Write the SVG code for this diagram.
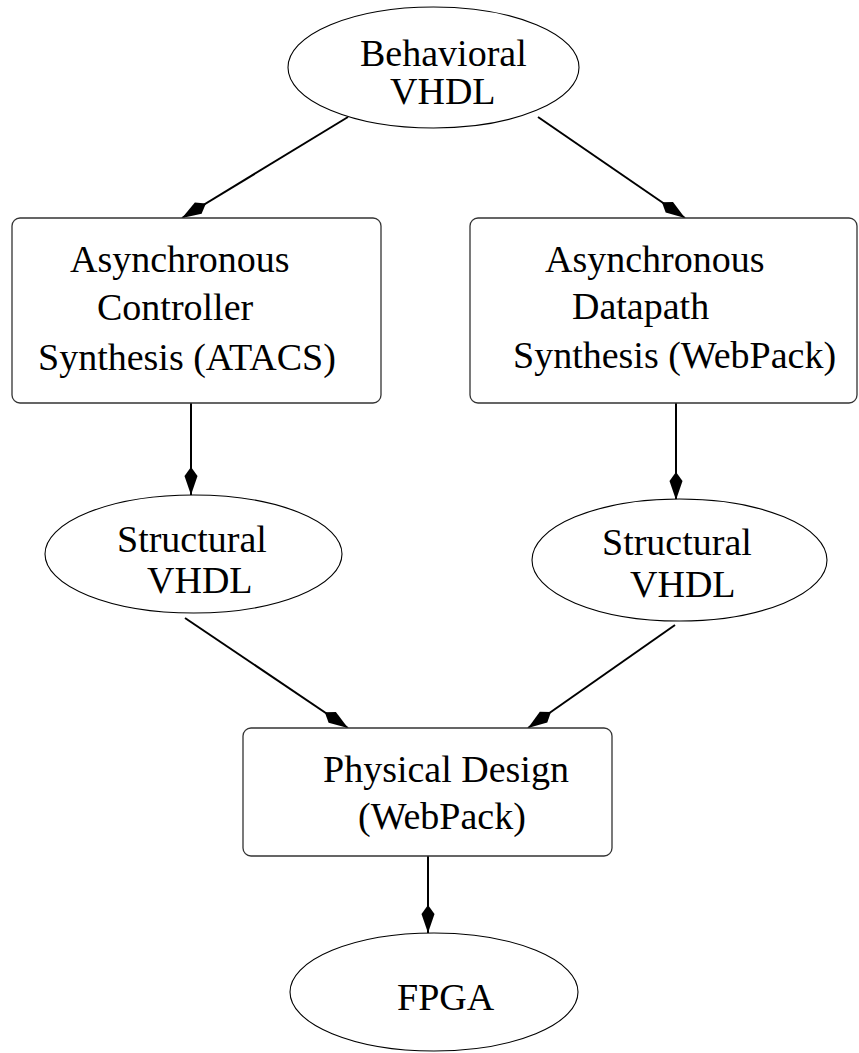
<svg xmlns="http://www.w3.org/2000/svg" width="859" height="1053" viewBox="0 0 859 1053">
<style>
text { font-family: "Liberation Serif", "Times New Roman", serif; font-size: 38px; fill: #000; }
.box { fill: #fff; stroke: #333; stroke-width: 1.3; }
.ell { fill: #fff; stroke: #000; stroke-width: 1.1; }
.edge { stroke: #000; stroke-width: 2; fill: none; marker-end: url(#kite); }
</style>
<defs>
<marker id="kite" markerUnits="userSpaceOnUse" viewBox="0 -8 28 16" refX="28" refY="0" markerWidth="28" markerHeight="16" orient="auto" overflow="visible">
<path d="M0,0 L9,-6.5 L28,0 L9,6.5 Z" fill="#000"/>
</marker>
</defs>
<rect width="859" height="1053" fill="#fff"/>
<g id="connectors">
<line class="edge" x1="348" y1="117" x2="182" y2="218"/>
<line class="edge" x1="538" y1="117" x2="685" y2="218"/>
<line class="edge" x1="191" y1="403" x2="191" y2="495"/>
<line class="edge" x1="676" y1="403" x2="676" y2="500"/>
<line class="edge" x1="185" y1="618" x2="348" y2="728"/>
<line class="edge" x1="675" y1="625" x2="528" y2="728"/>
<line class="edge" x1="428" y1="856" x2="428" y2="933"/>
</g>
<g id="behavioral">
<ellipse class="ell" cx="433.5" cy="67.5" rx="145.5" ry="60.5"/>
<text x="360" y="66">Behavioral</text>
<text x="390" y="104">VHDL</text>
</g>
<g id="controller">
<rect class="box" x="12" y="218" width="369" height="185" rx="8"/>
<text x="70" y="272">Asynchronous</text>
<text x="97" y="320">Controller</text>
<text x="38" y="370">Synthesis (ATACS)</text>
</g>
<g id="datapath">
<rect class="box" x="470" y="218" width="387" height="185" rx="8"/>
<text x="545" y="272">Asynchronous</text>
<text x="572" y="319">Datapath</text>
<text x="513" y="368">Synthesis (WebPack)</text>
</g>
<g id="structural-left">
<ellipse class="ell" cx="193.5" cy="554" rx="148.5" ry="59"/>
<text x="117" y="552">Structural</text>
<text x="147" y="593">VHDL</text>
</g>
<g id="structural-right">
<ellipse class="ell" cx="679.5" cy="560" rx="147.5" ry="61"/>
<text x="602" y="555">Structural</text>
<text x="630" y="597">VHDL</text>
</g>
<g id="physical">
<rect class="box" x="243" y="728" width="369" height="128" rx="8"/>
<text x="323" y="782">Physical Design</text>
<text x="358" y="829">(WebPack)</text>
</g>
<g id="fpga">
<ellipse class="ell" cx="434" cy="992" rx="144" ry="59"/>
<text x="397" y="1010">FPGA</text>
</g>
</svg>
